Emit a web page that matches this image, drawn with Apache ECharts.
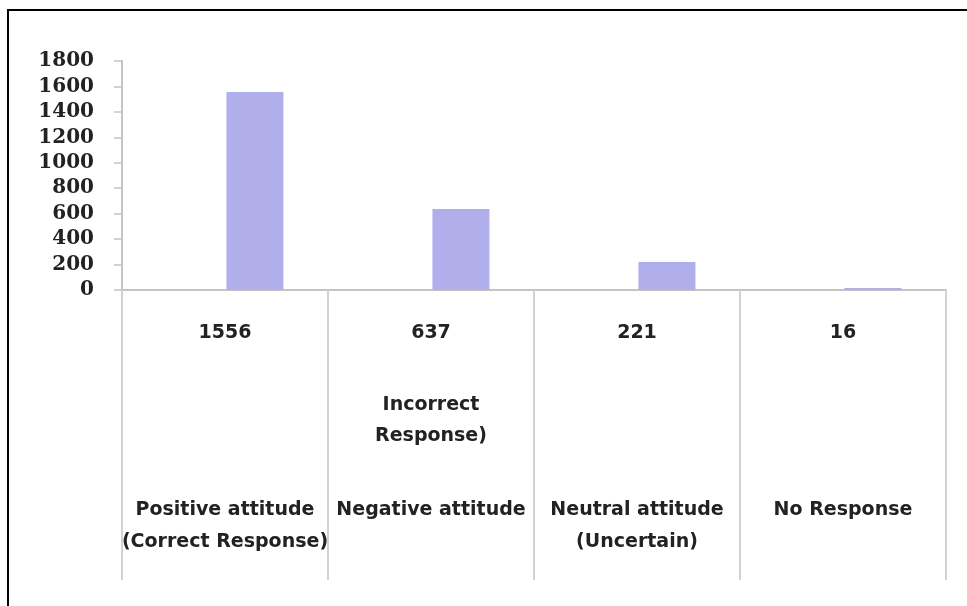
<!DOCTYPE html>
<html>
<head>
<meta charset="utf-8">
<script src="https://cdn.jsdelivr.net/npm/echarts@6/dist/echarts.min.js"></script>
<style>
  html, body { margin: 0; padding: 0; background: #fff; }
  #wrap { position: relative; width: 967px; height: 606px; overflow: hidden; }
  #frame { position: absolute; left: 7px; top: 9px; width: 1000px; height: 700px; border-left: 2px solid #000; border-top: 2px solid #000; box-sizing: border-box; pointer-events: none; }
  #chart { position: absolute; left: 0; top: 0; width: 967px; height: 606px; }
</style>
</head>
<body>
<div id="wrap">
  <div id="chart"></div>
  <div id="frame"></div>
</div>
<script>
const categories = ['Positive attitude\n(Correct Response)', 'Negative attitude', 'Neutral attitude\n(Uncertain)', 'No Response'];
const notes = ['', 'Incorrect\nResponse)', '', ''];
const values = [1556, 637, 221, 16];
const placeholder = [null, null, null, null];
const yTicks = { min: 0, max: 1800, interval: 200 };

const chart = echarts.init(document.getElementById('chart'), null, { renderer: 'canvas' });

const textFont = 'DejaVu Sans';
const hiddenAxisBase = {
  type: 'category',
  gridIndex: 0,
  position: 'bottom',
  offset: 0,
  axisLine: { show: false },
  axisTick: { show: false },
  splitLine: { show: false }
};

chart.setOption({
  animation: false,
  backgroundColor: '#fff',
  grid: { left: 122, right: 21, top: 61, bottom: 316, containLabel: false },
  xAxis: [
    {
      type: 'category',
      data: categories,
      position: 'bottom',
      axisLine: { show: true, lineStyle: { color: '#c4c4c4', width: 2 } },
      axisTick: { show: true, length: 290, lineStyle: { color: '#d2d2d2', width: 2 } },
      splitLine: { show: false },
      axisLabel: {
        interval: 0,
        margin: 32,
        formatter: (v, i) => String(values[i]),
        fontFamily: textFont, fontWeight: 'bold', fontSize: 19, color: '#222', lineHeight: 22
      }
    },
    Object.assign({}, hiddenAxisBase, {
      data: notes,
      axisLabel: {
        interval: 0, margin: 100,
        fontFamily: textFont, fontWeight: 'bold', fontSize: 19, color: '#222', lineHeight: 31
      }
    }),
    Object.assign({}, hiddenAxisBase, {
      data: categories,
      axisLabel: {
        interval: 0, margin: 204,
        fontFamily: textFont, fontWeight: 'bold', fontSize: 19, color: '#222', lineHeight: 32
      }
    })
  ],
  yAxis: {
    type: 'value',
    min: yTicks.min, max: yTicks.max, interval: yTicks.interval,
    axisLine: { show: true, lineStyle: { color: '#c4c4c4', width: 2 } },
    axisTick: { show: true, length: 8, lineStyle: { color: '#c4c4c4', width: 1.5 } },
    splitLine: { show: false },
    axisLabel: {
      margin: 28,
      formatter: v => String(v),
      fontFamily: 'DejaVu Serif', fontWeight: 'bold', fontSize: 20, color: '#222'
    }
  },
  series: [
    {
      type: 'bar', xAxisIndex: 0, data: placeholder,
      barWidth: 57, barGap: '5%',
      itemStyle: { color: '#b1aeec' }
    },
    {
      type: 'bar', xAxisIndex: 0, data: values,
      barWidth: 57, barGap: '5%',
      itemStyle: { color: '#b1aeec' }
    }
  ]
});
</script>
</body>
</html>
